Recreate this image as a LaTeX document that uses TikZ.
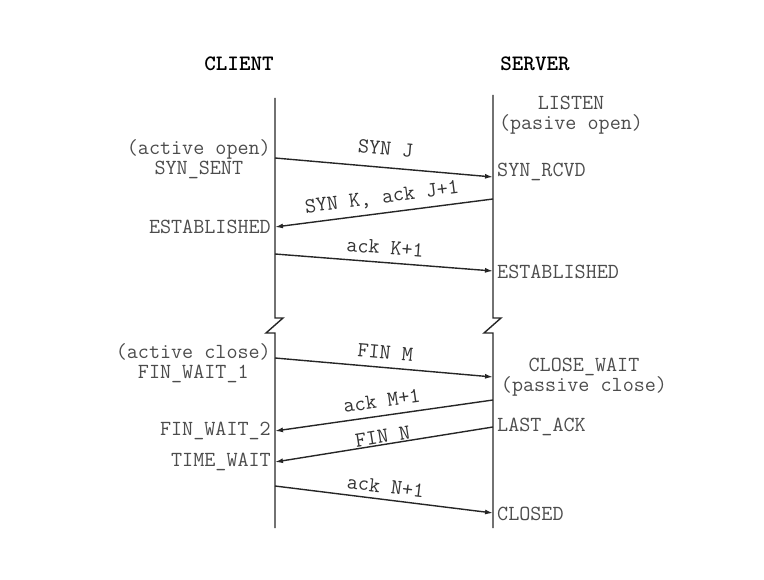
\documentclass[tikz,border=0pt]{standalone}
\usepackage{fontspec}
\usetikzlibrary{arrows.meta}
\tikzset{
  life/.style={line width=1.4pt, draw=black!85},
  msg/.style={line width=1.4pt, draw=black!85, -{Latex[length=8pt,width=5pt]}},
  state/.style={font=\ttfamily\fontsize{21.5}{20.5}\selectfont, text=black!70, inner sep=2pt},
  lbl/.style={font=\ttfamily\fontsize{21.5}{20.5}\selectfont, text=black!80, sloped, midway, yshift=15pt},
  head/.style={font=\ttfamily\bfseries\fontsize{22}{22}\selectfont}
}
\begin{document}
\begin{tikzpicture}[x=1pt,y=-1pt]
\useasboundingbox (0,0) rectangle (764,580);
% headers
\node[head] (client) at (239,64) {CLIENT};
\node[head] (server) at (535,64) {SERVER};
% lifelines
\coordinate (ctop) at (275,98);
\coordinate (cbot) at (275,528);
\coordinate (stop) at (493,95);
\coordinate (sbot) at (493,528);
\draw[life] (ctop) -- (275,318) -- (283,318) -- (266,333) -- (275,333) -- (cbot);
\draw[life] (stop) -- (493,318) -- (501,318) -- (484,333) -- (493,333) -- (sbot);
% end points on the lifelines
\coordinate (c1) at (275,158);
\coordinate (s1) at (493,177);
\coordinate (s2) at (493,199);
\coordinate (c2) at (275,227);
\coordinate (c3) at (275,254);
\coordinate (s3) at (493,271);
\coordinate (c4) at (275,358);
\coordinate (s4) at (493,377);
\coordinate (s5) at (493,400);
\coordinate (c5) at (275,431);
\coordinate (s6) at (493,427);
\coordinate (c6) at (275,462);
\coordinate (c7) at (275,486);
\coordinate (s7) at (493,513);
% client states
\node[state, anchor=east, align=center] (actopen) at (273,159) {(active open)\\SYN\_SENT};
\node[state, anchor=east] (cest) at (273,227) {ESTABLISHED};
\node[state, anchor=east, align=center] (actclose) at (273,363) {(active close)\\FIN\_WAIT\_1};
\node[state, anchor=east] (finwait) at (273,431) {FIN\_WAIT\_2};
\node[state, anchor=east] (timewait) at (273,462) {TIME\_WAIT};
% server states
\node[state, align=center] (listen) at (571,115) {LISTEN\\(pasive open)};
\node[state, anchor=west] (rcvd) at (495,172) {SYN\_RCVD};
\node[state, anchor=west] (sest) at (495,272) {ESTABLISHED};
\node[state, align=center] (closewait) at (584,377) {CLOSE\_WAIT\\(passive close)};
\node[state, anchor=west] (lastack) at (495,427) {LAST\_ACK};
\node[state, anchor=west] (closed) at (495,514) {CLOSED};
% segments
\draw[msg] (c1) -- node[lbl, yshift=4pt] {SYN J} (s1);
\draw[msg] (s2) -- node[lbl] {SYN K, ack J+1} (c2);
\draw[msg] (c3) -- node[lbl] {ack K+1} (s3);
\draw[msg] (c4) -- node[lbl] {FIN M} (s4);
\draw[msg] (s5) -- node[lbl] {ack M+1} (c5);
\draw[msg] (s6) -- node[lbl, yshift=-7pt] {FIN N} (c6);
\draw[msg] (c7) -- node[lbl, yshift=-2pt] {ack N+1} (s7);
\end{tikzpicture}
\end{document}
